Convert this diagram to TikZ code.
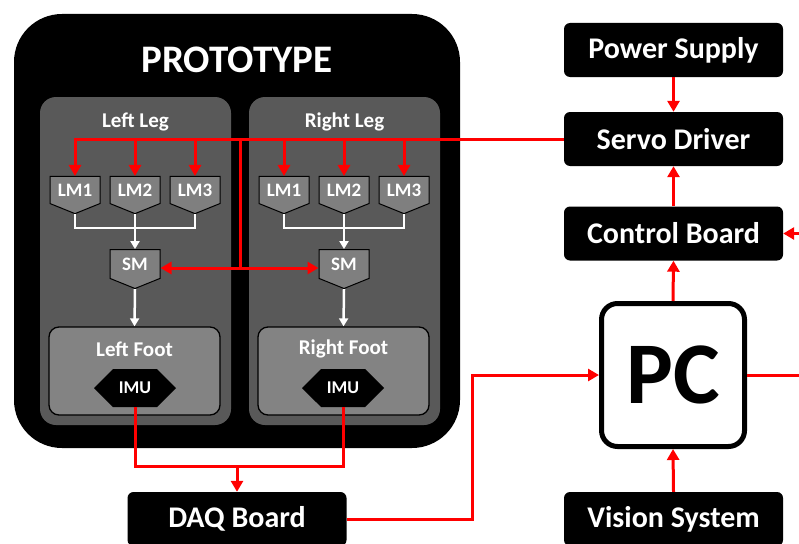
\documentclass[tikz,border=0pt]{standalone}
\usepackage{fontspec}
\setmainfont{Carlito}
\usetikzlibrary{arrows.meta,shapes.symbols,positioning,calc}
\definecolor{panelgray}{HTML}{595959}
\definecolor{boxgray}{HTML}{7F7F7F}
\definecolor{footgray}{HTML}{838383}
\tikzset{
  protobox/.style = { fill=black, rounded corners=48pt, minimum width=446pt, minimum height=434pt },
  leg/.style      = { fill=panelgray, rounded corners=16pt, minimum width=191pt, minimum height=328pt },
  legtitle/.style = { text=white, font=\bfseries\fontsize{21}{22}\selectfont },
  mot/.style      = { signal, signal to=south, signal pointer angle=136, draw=black, line width=1pt,
    fill=boxgray, text=white, font=\bfseries\fontsize{19}{20}\selectfont,
    minimum width=50pt, minimum height=34pt, inner sep=0pt },
  foot/.style     = { draw=black, line width=1.3pt, fill=footgray, rounded corners=10pt,
    minimum width=171pt, minimum height=88pt },
  imu/.style      = { signal, signal to=east and west, fill=black, text=white,
    font=\bfseries\fontsize{18}{19}\selectfont, minimum width=82pt, minimum height=38pt, inner sep=0pt },
  blk/.style      = { fill=black, rounded corners=6pt, text=white, font=\bfseries\fontsize{30}{32}\selectfont,
    minimum width=219pt, minimum height=54pt },
  pcbox/.style    = { draw=black, line width=5pt, fill=white, rounded corners=16pt, minimum size=143pt,
    font=\bfseries\fontsize{88}{90}\selectfont },
  rline/.style    = { draw=red, line width=3pt, >={Triangle[length=11pt,width=12pt]} },
  wline/.style    = { draw=white, line width=2.5pt, >={Triangle[length=8pt,width=9pt]} }
}

\begin{document}
\begin{tikzpicture}[x=1pt,y=-1pt]
  \useasboundingbox (0,0) rectangle (799,543);

  % prototype with both legs
  \node[protobox] (proto) at (237,231) {};
  \node[text=white, font=\bfseries\fontsize{39}{40}\selectfont] (ptitle) at (237,60) {PROTOTYPE};
  \node[leg] (lleg) at (135.5,261) {};
  \node[leg] (rleg) at (344.5,261) {};
  \node[legtitle] at (135.5,122) {Left Leg};
  \node[legtitle] at (344.5,122) {Right Leg};

  % linear motors and servo motors
  \node[mot] (ll1) at (75,190) {LM1};
  \node[mot] (ll2) at (135,190) {LM2};
  \node[mot] (ll3) at (195,190) {LM3};
  \node[mot] (rl1) at (284,190) {LM1};
  \node[mot] (rl2) at (344,190) {LM2};
  \node[mot] (rl3) at (404,190) {LM3};
  \node[mot] (lsm) at (135,264) {SM};
  \node[mot] (rsm) at (344,264) {SM};

  % feet
  \node[foot] (lfoot) at (134.5,371) {};
  \node[foot] (rfoot) at (343.5,371) {};
  \node[legtitle] at (134.5,349) {Left Foot};
  \node[legtitle] at (343.5,349) {Right Foot};
  \node[imu] (limu) at (135,388) {IMU};
  \node[imu] (rimu) at (343,388) {IMU};

  % outside blocks
  \node[blk] (daq) at (237,519) {DAQ Board};
  \node[blk] (ps) at (673.5,50) {Power Supply};
  \node[blk] (sd) at (673.5,139) {Servo Driver};
  \node[blk] (cb) at (673.5,233.5) {Control Board};
  \node[blk] (vs) at (673.5,519) {Vision System};
  \node[pcbox] (pc) at (673,375) {PC};

  \coordinate (smj) at (240,268);
  \coordinate (imuj) at (237,466);
  \coordinate (dq) at (472,375);
  \coordinate (pcout) at (799,375);
  \coordinate (cbin) at (799,233.5);

  % white links inside the legs
  \foreach \a/\b/\c/\s in {ll1/ll2/ll3/lsm, rl1/rl2/rl3/rsm} {
    \draw[wline] (\a.south) |- ($(\b.south)+(0,14)$) -| (\c.south);
    \draw[wline,->] (\b.south) -- (\s.north);
  }
  \draw[wline,->] (lsm.south) -- (lfoot.north);
  \draw[wline,->] (rsm.south) -- (rfoot.north);

  % red signal lines
  \draw[rline,->] (sd.west) -| (ll1.north);
  \foreach \n in {ll2,ll3,rl1,rl2,rl3}
    \draw[rline,->] (\n |- sd.west) -- (\n.north);
  \draw[rline] (smj |- sd.west) -- (smj);
  \draw[rline,<->] (lsm.east |- smj) -- (rsm.west |- smj);
  \draw[rline] (limu.south) |- (imuj) -| (rimu.south);
  \draw[rline,->] (imuj) -- (daq.north);
  \draw[rline,->] (daq.east) -| (dq) -- (pc.west);
  \draw[rline] (pc.east) -- (pcout);
  \draw[rline,->] (cbin) -- (cb.east);
  \draw[rline,->] (ps.south) -- (sd.north);
  \draw[rline,->] (cb.north) -- (sd.south);
  \draw[rline,->] (pc.north) -- (cb.south);
  \draw[rline,->] (vs.north) -- (pc.south);
\end{tikzpicture}
\end{document}
